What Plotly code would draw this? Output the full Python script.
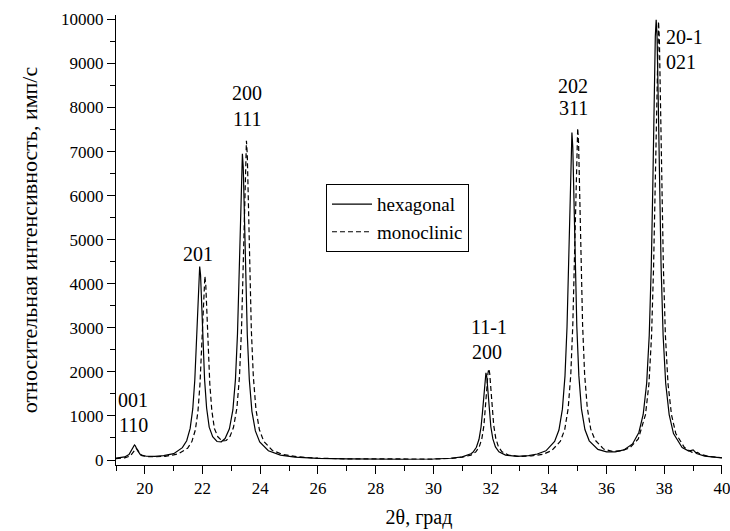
import plotly.graph_objects as go

# ---- data ----
hex_x = [19.0, 19.3, 19.45, 19.55, 19.61, 19.64, 19.67, 19.73, 19.85, 20.05, 20.35, 20.65, 21.0,
         21.3, 21.45, 21.57, 21.66, 21.73, 21.78, 21.83, 21.87, 21.90, 21.93, 21.97, 22.02, 22.07, 22.14, 22.23, 22.35, 22.5, 22.65, 22.78,
         22.93, 23.05, 23.14, 23.21, 23.26, 23.31, 23.35, 23.38, 23.41, 23.45, 23.5, 23.55, 23.62, 23.71, 23.83, 23.98, 24.28, 24.7, 25.2, 26.0,
         27.0, 28.0, 29.0, 30.0, 30.6, 31.0, 31.3, 31.37, 31.49, 31.58, 31.65, 31.70, 31.75, 31.79, 31.82, 31.85, 31.89, 31.94, 31.99, 32.06, 32.15, 32.27, 32.5, 32.9, 33.3, 33.6,
         33.9, 34.2, 34.35, 34.47, 34.56, 34.63, 34.68, 34.73, 34.77, 34.80, 34.83, 34.87, 34.92, 34.97, 35.04, 35.13, 35.25, 35.4, 35.7, 36.0, 36.3, 36.6, 36.9,
         37.12, 37.27, 37.39, 37.48, 37.55, 37.60, 37.65, 37.69, 37.72, 37.75, 37.79, 37.84, 37.89, 37.96, 38.05, 38.17, 38.32, 38.62, 38.85, 39.0, 39.12, 39.4, 39.7, 40.0]
hex_y = [43, 70, 126, 232, 322, 340, 322, 232, 116, 86, 83, 101, 145,
         280, 438, 717, 1159, 1810, 2560, 3525, 4200, 4392, 4205, 3531, 2570, 1825, 1180, 746, 530, 420, 414, 487,
         709, 1136, 1830, 2857, 4044, 5575, 6646, 6948, 6646, 5570, 4035, 2845, 1820, 1105, 661, 411, 210, 112, 67, 38,
         25, 18, 17, 23, 40, 73, 142, 177, 289, 471, 749, 1082, 1541, 1883, 1980, 1885, 1545, 1087, 755, 478, 297, 186, 111, 83, 99, 137,
         208, 420, 681, 1155, 1910, 3020, 4300, 5950, 7104, 7432, 7106, 5955, 4305, 3025, 1915, 1160, 693, 436, 240, 185, 184, 230, 365,
         626, 1034, 1740, 2835, 4397, 6111, 8211, 9616, 9994, 9615, 8210, 6110, 4395, 2833, 1737, 1032, 600, 284, 203, 230, 148, 89, 65, 50]

mono_x = [19.0, 19.3, 19.5, 19.6, 19.66, 19.7, 19.74, 19.8, 19.9, 20.1, 20.4, 20.7, 21.0,
          21.18, 21.48, 21.63, 21.75, 21.84, 21.91, 21.96, 22.01, 22.05, 22.08, 22.11, 22.15, 22.20, 22.25, 22.32, 22.41, 22.53, 22.68, 22.82, 22.95,
          23.07, 23.19, 23.28, 23.35, 23.40, 23.45, 23.49, 23.52, 23.55, 23.59, 23.64, 23.69, 23.76, 23.85, 23.97, 24.12, 24.42, 24.8, 25.3, 26.0,
          27.0, 28.0, 29.0, 30.0, 30.6, 31.0, 31.3, 31.47, 31.59, 31.68, 31.75, 31.80, 31.85, 31.89, 31.92, 31.95, 31.99, 32.04, 32.09, 32.16, 32.25, 32.37, 32.6, 33.0, 33.4, 33.8,
          34.1, 34.4, 34.55, 34.67, 34.76, 34.83, 34.88, 34.93, 34.97, 35.0, 35.03, 35.07, 35.12, 35.17, 35.24, 35.33, 35.45, 35.6, 35.9, 36.2, 36.5, 36.8, 37.1,
          37.35, 37.47, 37.56, 37.63, 37.68, 37.73, 37.77, 37.80, 37.83, 37.87, 37.92, 37.97, 38.04, 38.13, 38.25, 38.4, 38.7, 38.95, 39.05, 39.15, 39.25, 39.5, 39.8, 40.0]
mono_y = [32, 49, 94, 171, 242, 265, 242, 171, 97, 76, 74, 84, 115,
          148, 268, 419, 684, 1104, 1721, 2433, 3349, 3990, 4171, 3992, 3354, 2443, 1736, 1126, 715, 527, 432, 443, 536,
          737, 1180, 1904, 2976, 4215, 5813, 6931, 7246, 6930, 5800, 4200, 2960, 1890, 1148, 687, 425, 216, 122, 72, 41,
          27, 20, 18, 22, 37, 64, 111, 184, 301, 492, 782, 1132, 1611, 1969, 2071, 1970, 1613, 1135, 786, 497, 307, 190, 112, 81, 93, 131,
          213, 426, 690, 1170, 1935, 3060, 4358, 6030, 7200, 7532, 7205, 6035, 4365, 3065, 1945, 1200, 705, 455, 249, 197, 206, 273, 478,
          1030, 1733, 2824, 4380, 6086, 8178, 9577, 9954, 9577, 8178, 6086, 4380, 2824, 1733, 1030, 600, 283, 180, 160, 175, 130, 87, 62, 52]

series_names = ["hexagonal", "monoclinic"]

peak_labels = ["001", "110", "201", "200", "111", "11-1", "200", "202", "311", "20-1", "021"]
peak_label_x = [19.6, 19.62, 21.84, 23.54, 23.54, 31.92, 31.85, 34.84, 34.84, 37.99, 37.99]
peak_label_y = [1360, 790, 4670, 8320, 7750, 3020, 2450, 8500, 7980, 9600, 9030]
peak_label_anchor = ["center"] * 9 + ["left", "left"]

x_tick_vals = [20, 22, 24, 26, 28, 30, 32, 34, 36, 38, 40]
x_tick_text = ["20", "22", "24", "26", "28", "30", "32", "34", "36", "38", "40"]
y_tick_vals = [0, 1000, 2000, 3000, 4000, 5000, 6000, 7000, 8000, 9000, 10000]
y_tick_text = ["0", "1000", "2000", "3000", "4000", "5000", "6000", "7000", "8000", "9000", "10000"]

FONT = "Liberation Serif, Times New Roman, serif"

fig = go.Figure()
fig.add_trace(go.Scatter(x=hex_x, y=hex_y, mode="lines", name=series_names[0],
                         line=dict(color="black", width=1.2)))
fig.add_trace(go.Scatter(x=mono_x, y=mono_y, mode="lines", name=series_names[1],
                         line=dict(color="black", width=1.2, dash="5px,3px")))

for t, x, y, a in zip(peak_labels, peak_label_x, peak_label_y, peak_label_anchor):
    fig.add_annotation(x=x, y=y, text=t, showarrow=False, xanchor=a, yanchor="middle",
                       font=dict(family=FONT, size=20, color="black"))

fig.update_layout(
    width=730, height=531,
    margin=dict(l=116, r=8, t=15, b=66, autoexpand=False),
    paper_bgcolor="white", plot_bgcolor="white",
    font=dict(family=FONT, color="black"),
    legend=dict(x=0.3465, y=0.624, xanchor="left", yanchor="top",
                bordercolor="black", borderwidth=1, bgcolor="white",
                font=dict(family=FONT, size=19, color="black"),
                tracegroupgap=0, itemwidth=40),
    showlegend=True,
)
fig.update_xaxes(
    range=[19, 40.001], tickmode="array", tickvals=x_tick_vals, ticktext=x_tick_text,
    ticks="outside", ticklen=8, tickwidth=1, ticklabeloverflow="allow",
    tickcolor="black", showline=True, linecolor="black", linewidth=1,
    showgrid=False, zeroline=False, mirror=False, automargin=False,
    minor=dict(dtick=1, tick0=19, ticks="outside", ticklen=5, tickcolor="black", showgrid=False),
    tickfont=dict(family=FONT, size=17, color="black"),
    title=dict(text="2θ, град", font=dict(family=FONT, size=20, color="black"), standoff=12),
)
fig.update_yaxes(
    range=[-113, 10100], tickmode="array", tickvals=y_tick_vals, ticktext=y_tick_text,
    ticks="outside", ticklen=8, tickwidth=1, ticklabeloverflow="allow",
    tickcolor="black", showline=True, linecolor="black", linewidth=1,
    showgrid=False, zeroline=False, mirror=False, automargin=False,
    minor=dict(dtick=500, tick0=0, ticks="outside", ticklen=5, tickcolor="black", showgrid=False),
    tickfont=dict(family=FONT, size=17, color="black"),
    title=dict(text="относительная интенсивность, имп/с", font=dict(family=FONT, size=22, color="black"), standoff=17),
)

fig.write_html(
    "out.html",
    config={"displayModeBar": False},
    post_script="document.body.style.margin='0';document.body.style.padding='0';document.body.style.overflow='hidden';",
)
